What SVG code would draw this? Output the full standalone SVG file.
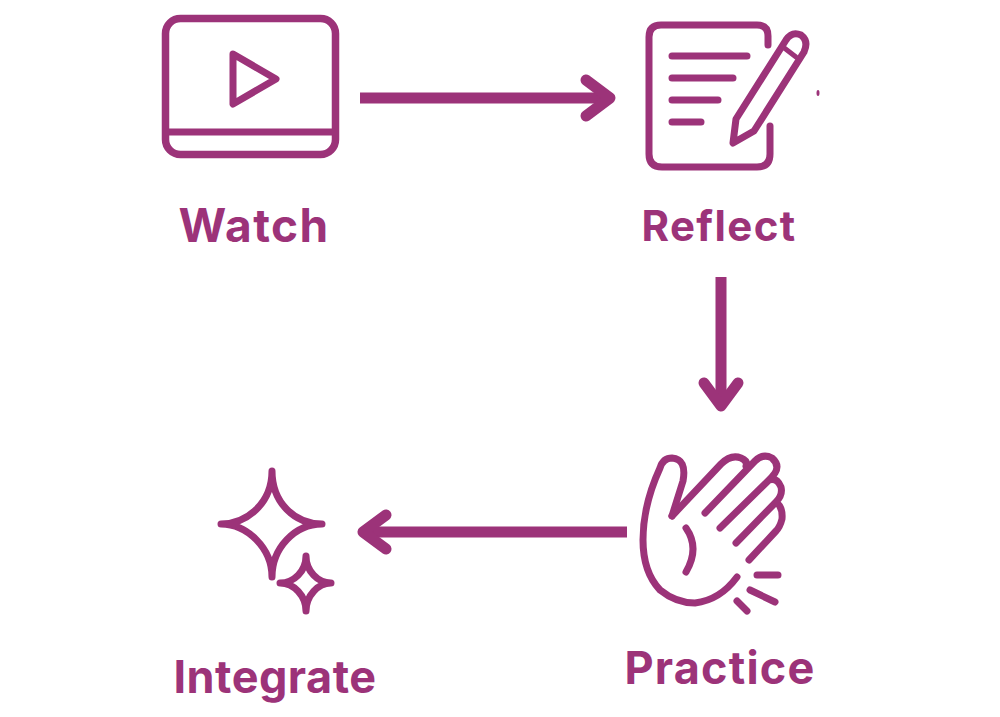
<svg xmlns="http://www.w3.org/2000/svg" width="1000" height="717" viewBox="0 0 1000 717">
<style>
.s{fill:none;stroke:#9c3379;stroke-linecap:round;stroke-linejoin:round}
.i{stroke-width:7}
.a{stroke-width:11}
.h{stroke-linecap:butt}
text{font-family:"Inter","Liberation Sans",sans-serif;font-weight:700;fill:#9c3379;text-anchor:middle}
</style>
<rect width="1000" height="717" fill="#fff"/>
<g id="watch">
<rect class="s i" x="165.500" y="18.500" width="170" height="136" rx="15" style="stroke-width:7.500"/>
<path class="s i h" d="M166 132H335"/>
<path class="s i" d="M233 54L276 79L233 104Z"/>
<text x="254" y="242" font-size="46" letter-spacing="1.400">Watch</text>
</g>
<g id="reflect">
<path class="s i" d="M768 45V36Q768 25 757 25H661Q649 25 649 37V154Q649 167 662 167H757Q770 167 770 154V126"/>
<path class="s i" d="M672 56H747M672 78H733M672 100H718M672 122H701"/>
<path class="s i" d="M733 143L736 119L786 40Q792 31 801 35Q809 41 804 52L754 131Z"/>
<path class="s i" style="stroke-width:5" d="M783 47L796 57"/>
<ellipse cx="818" cy="93" rx="1.500" ry="3" fill="#9c3379"/>
<text x="719" y="241" font-size="42" letter-spacing="1.400">Reflect</text>
</g>
<g id="practice">
<path class="s i" d="M672 516L683 481Q687 459 672 458Q663 458 660 468Q643 505 643 540Q643 572 660 590Q676 603 695 603Q720 600 737 577"/>
<path class="s i" d="M672 516L721 464Q731 454 741 458Q748 461 746 466M705 513L755 461Q763 453 772 458Q780 465 775 473Q772 477 769 480M720 528L769 480Q777 477 781 487Q783 495 776 502M736 543L776 502Q783 507 782 519Q780 527 776 531M749 560L776 531"/>
<path class="s i" d="M686 528Q700 548 686 572"/>
<path class="s i" d="M757 575H778M750 590L775 602M737 601L747 611"/>
<text x="720" y="684" font-size="45" letter-spacing="1.200">Practice</text>
</g>
<g id="integrate">
<path class="s i" d="M272 471C272 503 295 524 322 524C295 524 272 548 272 577C272 548 247 524 221 524C247 524 272 503 272 471Z"/>
<path class="s i" d="M306 556C306 571 318 583 331 583C318 583 306 596 306 611C306 596 294 583 280 583C294 583 306 571 306 556Z"/>
<text x="275" y="693" font-size="45" letter-spacing="0.500">Integrate</text>
</g>
<g id="connectors">
<path class="s a h" d="M360 98H608"/>
<path class="s a" d="M586 80L610 98L586 116"/>
<path class="s a h" d="M721 277V404"/>
<path class="s a" d="M704 383L721 406L738 383"/>
<path class="s a h" d="M627 532H368"/>
<path class="s a" d="M386 515L363 532L386 549"/>
</g>
</svg>
